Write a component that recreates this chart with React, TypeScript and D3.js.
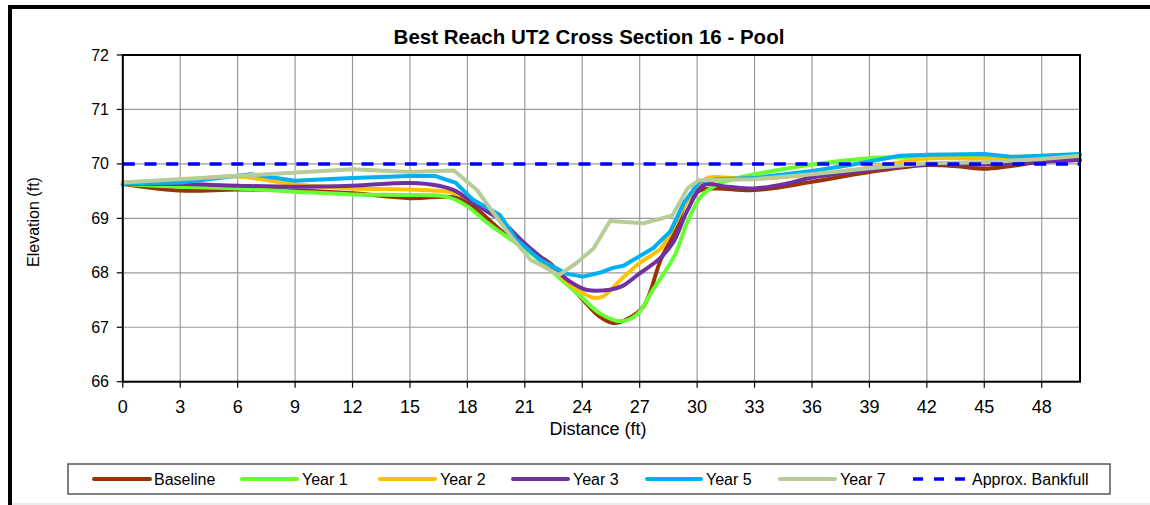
import React from "react";
import * as d3 from "d3";

// ---- Data ----
const xTicks = [0, 3, 6, 9, 12, 15, 18, 21, 24, 27, 30, 33, 36, 39, 42, 45, 48];
const yTicks = [66, 67, 68, 69, 70, 71, 72];

const baselineX = [0, 3, 6, 9, 12, 15, 17.4, 18.5, 19.9, 21.1, 22.3, 24.05, 24.9, 25.6, 26.3, 27.2, 28.1, 28.8, 29.5, 30.2, 31, 33, 36, 39, 42, 43.75, 45, 46.2, 48, 50];
const baselineY = [69.63, 69.51, 69.53, 69.51, 69.46, 69.37, 69.38, 69.16, 68.73, 68.42, 68.18, 67.5, 67.2, 67.08, 67.14, 67.38, 68.24, 68.73, 69.34, 69.52, 69.55, 69.52, 69.67, 69.85, 69.98, 69.95, 69.91, 69.95, 70.04, 70.07];

const year1X = [0, 3, 6, 9, 12, 15, 17, 18, 19, 19.9, 21.1, 22.3, 23.9, 24.9, 26, 26.85, 27.7, 28.8, 29.5, 30.2, 31, 32.1, 33.8, 36, 38.5, 40, 42, 45, 48, 50];
const year1Y = [69.63, 69.58, 69.55, 69.49, 69.44, 69.43, 69.39, 69.22, 68.93, 68.7, 68.42, 68.06, 67.57, 67.26, 67.11, 67.23, 67.69, 68.3, 68.94, 69.4, 69.61, 69.74, 69.86, 69.99, 70.09, 70.12, 70.12, 70.12, 70.12, 70.15];

const year2X = [0, 3, 6, 9, 12, 15, 17.4, 18.5, 19.8, 21, 22.3, 23.5, 24.6, 25.1, 26, 27, 28.1, 28.6, 29.5, 30.2, 30.6, 31.5, 33, 36, 39, 42, 45, 48, 50];
const year2Y = [69.66, 69.7, 69.77, 69.62, 69.55, 69.53, 69.46, 69.25, 68.95, 68.52, 68.13, 67.75, 67.54, 67.57, 67.87, 68.18, 68.45, 68.73, 69.34, 69.65, 69.75, 69.75, 69.73, 69.8, 69.93, 70.1, 70.1, 70.15, 70.17];

const year3X = [0, 3, 6, 9, 12, 15, 16.5, 17.4, 18.3, 19.7, 21, 22.3, 23.35, 24.2, 25.45, 26.06, 27, 28.07, 28.77, 29.47, 30.35, 31.6, 33, 34.7, 36, 39, 42, 45, 48, 50];
const year3Y = [69.63, 69.63, 69.6, 69.58, 69.6, 69.65, 69.6, 69.5, 69.28, 68.97, 68.54, 68.15, 67.84, 67.69, 67.69, 67.75, 67.99, 68.27, 68.57, 69.13, 69.61, 69.58, 69.55, 69.64, 69.75, 69.89, 69.99, 69.99, 70.04, 70.07];

const year5X = [0, 3, 6.7, 9, 12, 15, 16.3, 17.4, 18.3, 19.7, 20.56, 21.8, 23.2, 24.05, 24.9, 25.6, 26.15, 27.7, 28.6, 29.3, 30.1, 31, 33, 36, 38, 40.6, 42, 45, 46.4, 48, 50];
const year5Y = [69.63, 69.66, 69.81, 69.69, 69.74, 69.78, 69.78, 69.65, 69.34, 69.06, 68.61, 68.24, 67.98, 67.93, 68.0, 68.09, 68.13, 68.45, 68.76, 69.28, 69.67, 69.72, 69.74, 69.87, 69.98, 70.15, 70.17, 70.18, 70.13, 70.15, 70.18];

const year7X = [0, 12, 15, 17.3, 18.5, 19.3, 20.2, 21.3, 22.8, 23.7, 24.6, 25.45, 27.2, 28.7, 29.5, 30.1, 33, 36, 39, 42, 45, 48, 50];
const year7Y = [69.66, 69.9, 69.85, 69.88, 69.52, 69.13, 68.7, 68.24, 67.96, 68.18, 68.45, 68.95, 68.91, 69.05, 69.55, 69.7, 69.72, 69.81, 69.92, 70.01, 70.03, 70.09, 70.15];

const bankfullX = [0, 50];
const bankfullY = [70, 70];

const seriesNames = ["Baseline", "Year 1", "Year 2", "Year 3", "Year 5", "Year 7", "Approx. Bankfull"];
const seriesColors = ["#993300", "#66ff33", "#ffc000", "#7030a0", "#00b0f0", "#b8cc98", "#0000ff"];

// ---- Layout ----
const W = 1150;
const H = 505;
const plot = { left: 122.8, right: 1080, top: 55, bottom: 381.7 };
const FONT = "'Liberation Sans', Arial, Helvetica, sans-serif";

const xScale = d3.scaleLinear().domain([0, 50]).range([plot.left, plot.right]);
const yScale = d3.scaleLinear().domain([66, 72]).range([plot.bottom, plot.top]);

type Pt = [number, number];
const zip = (xs: number[], ys: number[]): Pt[] => xs.map((x, i) => [x, ys[i]]);

const smooth = d3
  .line<Pt>()
  .x((d) => xScale(d[0]))
  .y((d) => yScale(d[1]))
  .curve(d3.curveCatmullRom.alpha(0.5));
const straight = d3
  .line<Pt>()
  .x((d) => xScale(d[0]))
  .y((d) => yScale(d[1]));

const series = [
  { pts: zip(baselineX, baselineY), gen: smooth },
  { pts: zip(year1X, year1Y), gen: smooth },
  { pts: zip(year2X, year2Y), gen: smooth },
  { pts: zip(year3X, year3Y), gen: smooth },
  { pts: zip(year5X, year5Y), gen: straight },
  { pts: zip(year7X, year7Y), gen: straight },
];

const legendItems = [
  { line: [94, 150], text: 154 },
  { line: [242, 297], text: 302 },
  { line: [380, 435], text: 440 },
  { line: [513, 568], text: 573 },
  { line: [647, 701], text: 706 },
  { line: [780, 835], text: 840 },
  { line: [913, 967], text: 972 },
];

export default function App() {
  return (
    <svg
      width={W}
      height={H}
      style={{ position: "absolute", left: 0, top: 0, background: "#fff" }}
      fontFamily={FONT}
    >
      <rect x={0} y={0} width={W} height={H} fill="#fff" />
      {/* outer frame */}
      <rect x={12} y={503} width={W - 12} height={2} fill="#ebebeb" />
      <path d={`M10,${H} L10,7 L${W},7`} fill="none" stroke="#000" strokeWidth={4} />

      {/* title */}
      <text x={589} y={44} textAnchor="middle" fontSize={20.5} fontWeight="bold" fill="#000">
        Best Reach UT2 Cross Section 16 - Pool
      </text>

      {/* grid */}
      {xTicks.map((t) => (
        <line key={"gx" + t} x1={xScale(t)} x2={xScale(t)} y1={plot.top} y2={plot.bottom} stroke="#999" strokeWidth={1.2} />
      ))}
      {yTicks.map((t) => (
        <line key={"gy" + t} x1={plot.left} x2={plot.right} y1={yScale(t)} y2={yScale(t)} stroke="#999" strokeWidth={1.2} />
      ))}

      {/* series */}
      {series.map((s, i) => (
        <path
          key={seriesNames[i]}
          d={s.gen(s.pts) || ""}
          fill="none"
          stroke={seriesColors[i]}
          strokeWidth={4}
          strokeLinejoin="round"
          strokeLinecap="round"
        />
      ))}
      <path
        d={straight(zip(bankfullX, bankfullY)) || ""}
        fill="none"
        stroke={seriesColors[6]}
        strokeWidth={3.5}
        strokeDasharray="12 9.7"
      />

      {/* plot border */}
      <rect
        x={plot.left}
        y={plot.top}
        width={plot.right - plot.left}
        height={plot.bottom - plot.top}
        fill="none"
        stroke="#000"
        strokeWidth={2}
      />

      {/* y axis ticks and labels */}
      {yTicks.map((t) => (
        <g key={"yt" + t}>
          <line x1={plot.left - 6} x2={plot.left} y1={yScale(t)} y2={yScale(t)} stroke="#000" strokeWidth={1.2} />
          <text x={109} y={yScale(t) + 5.5} textAnchor="end" fontSize={16} fill="#000">
            {t}
          </text>
        </g>
      ))}
      {/* x axis ticks and labels */}
      {xTicks.map((t) => (
        <g key={"xt" + t}>
          <line x1={xScale(t)} x2={xScale(t)} y1={plot.bottom} y2={plot.bottom + 6} stroke="#000" strokeWidth={1.2} />
          <text x={xScale(t)} y={413} textAnchor="middle" fontSize={18} fill="#000">
            {t}
          </text>
        </g>
      ))}

      {/* axis titles */}
      <text x={598} y={435} textAnchor="middle" fontSize={18} fill="#000">
        Distance (ft)
      </text>
      <text transform="translate(39,222) rotate(-90)" textAnchor="middle" fontSize={16} fill="#000">
        Elevation (ft)
      </text>

      {/* legend */}
      <rect x={68} y={464} width={1042} height={30} fill="#fff" stroke="#555" strokeWidth={1.5} />
      {legendItems.map((it, i) => (
        <g key={"lg" + i}>
          <line
            x1={it.line[0]}
            x2={it.line[1]}
            y1={479}
            y2={479}
            stroke={seriesColors[i]}
            strokeWidth={i === 6 ? 3.5 : 4}
            strokeLinecap={i === 6 ? "butt" : "round"}
            strokeDasharray={i === 6 ? "10 11" : undefined}
          />
          <text x={it.text} y={484.5} fontSize={16} fill="#000">
            {seriesNames[i]}
          </text>
        </g>
      ))}
    </svg>
  );
}
